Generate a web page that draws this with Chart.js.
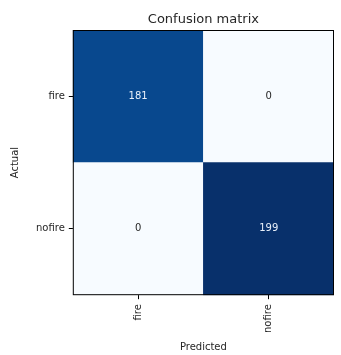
<!DOCTYPE html>
<html lang="en">
<head>
    <meta charset="UTF-8">
    <title>Confusion matrix</title>
    <style>
        body { margin: 0; background: #fff; }
        #wrap { width: 341px; height: 355px; }
    </style>
</head>
<body>
    <div id="wrap"><canvas id="myChart" width="341" height="355"></canvas></div>
    <script src="https://cdn.jsdelivr.net/npm/chart.js"></script>
    <script>
        // classes, same order on both axes
        const classes = ['fire', 'nofire']
        // rows = actual, columns = predicted
        const actualFire = [181, 0]
        const actualNofire = [0, 199]
        const titleText = 'Confusion matrix'

        // matplotlib "Blues" stops
        const blues = ['#f7fbff', '#deebf7', '#c6dbef', '#9ecae1', '#6baed6', '#4292c6', '#2171b5', '#08519c', '#08306b']
        const vmax = Math.max(...actualFire, ...actualNofire)

        function hex2rgb(h) {
            return [parseInt(h.slice(1, 3), 16), parseInt(h.slice(3, 5), 16), parseInt(h.slice(5, 7), 16)]
        }
        function blueFor(v) {
            let t = v / vmax * (blues.length - 1)
            let i = Math.min(Math.floor(t), blues.length - 2)
            let f = t - i
            let a = hex2rgb(blues[i]), b = hex2rgb(blues[i + 1])
            let c = a.map((x, k) => Math.round(x + (b[k] - x) * f))
            return 'rgb(' + c.join(',') + ')'
        }

        // bottom row (nofire) spans y 0..1, top row (fire) spans y 1..2
        const datasets = [
            { label: 'nofire', values: actualNofire, data: classes.map(() => [0, 1]) },
            { label: 'fire', values: actualFire, data: classes.map(() => [1, 2]) }
        ].map(d => ({
            label: d.label,
            values: d.values,
            data: d.data,
            backgroundColor: d.values.map(blueFor),
            borderWidth: 0,
            barPercentage: 1,
            categoryPercentage: 1,
            grouped: false
        }))

        const cellText = {
            id: 'cellText',
            afterDatasetsDraw(chart) {
                const ctx = chart.ctx
                const a = chart.chartArea
                ctx.save()
                ctx.font = '10px "DejaVu Sans"'
                ctx.textAlign = 'center'
                ctx.textBaseline = 'middle'
                chart.data.datasets.forEach((ds, i) => {
                    chart.getDatasetMeta(i).data.forEach((bar, j) => {
                        let v = ds.values[j]
                        ctx.fillStyle = v > vmax / 2 ? '#e8f0fa' : '#262626'
                        let p = bar.getProps(['x', 'y', 'base'], true)
                        ctx.fillText(String(v), p.x, (p.y + p.base) / 2)
                    })
                })
                // frame
                ctx.strokeStyle = '#000'
                ctx.lineWidth = 1
                ctx.strokeRect(a.left + 0.5, a.top + 0.5, a.right - a.left - 1, a.bottom - a.top - 1)
                // title centred over the plot, like matplotlib
                ctx.fillStyle = '#262626'
                ctx.font = '13px "DejaVu Sans"'
                ctx.textBaseline = 'alphabetic'
                ctx.fillText(titleText, (a.left + a.right) / 2, a.top - 7)
                ctx.restore()
            }
        }

        const cfg = {
            type: 'bar',
            data: { labels: classes, datasets: datasets },
            options: {
                responsive: false,
                animation: false,
                layout: { padding: { top: 30, right: 7, bottom: 2, left: 5 } },
                plugins: {
                    legend: { display: false },
                    tooltip: { enabled: false },
                    title: { display: false }
                },
                scales: {
                    x: {
                        offset: true,
                        grid: { offset: false, drawOnChartArea: false, drawTicks: true, tickLength: 4, color: '#000' },
                        border: { display: false },
                        ticks: {
                            minRotation: 90, maxRotation: 90,
                            color: '#262626',
                            font: { family: 'DejaVu Sans', size: 10 },
                            padding: 5
                        },
                        title: {
                            display: true, text: 'Predicted', color: '#262626',
                            font: { family: 'DejaVu Sans', size: 10 },
                            padding: { top: 3, bottom: 0 }
                        }
                    },
                    y: {
                        min: 0, max: 2,
                        afterBuildTicks: axis => { axis.ticks = [{ value: 0.5 }, { value: 1.5 }] },
                        grid: { drawOnChartArea: false, drawTicks: true, tickLength: 4, color: '#000' },
                        border: { display: false },
                        ticks: {
                            color: '#262626',
                            font: { family: 'DejaVu Sans', size: 10 },
                            padding: 4,
                            callback: v => v > 1 ? classes[0] : classes[1]
                        },
                        title: {
                            display: true, text: 'Actual', color: '#262626',
                            font: { family: 'DejaVu Sans', size: 10 },
                            padding: { top: 4, bottom: 11 }
                        }
                    }
                }
            },
            plugins: [cellText]
        }
        new Chart(document.getElementById('myChart').getContext('2d'), cfg)
    </script>
</body>
</html>
